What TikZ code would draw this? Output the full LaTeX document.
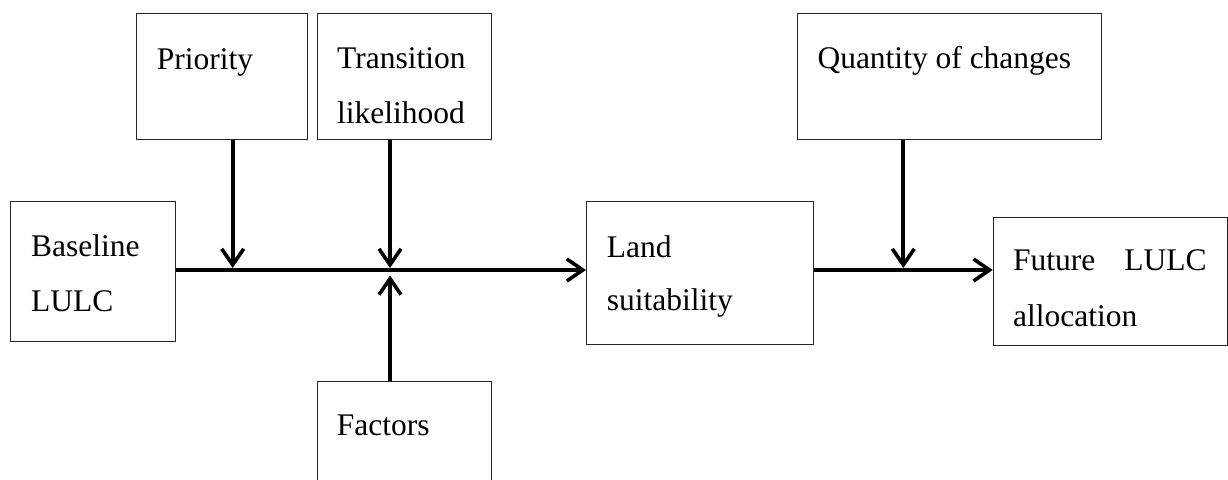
\documentclass[tikz,border=0pt]{standalone}
\usepackage{fontspec}
\setmainfont{Liberation Serif}
\usetikzlibrary{arrows.meta}
\begin{document}
\begin{tikzpicture}[x=1pt,y=-1pt,
  box/.style={draw=black!85,line width=1.1pt,inner sep=0pt,anchor=north west},
  lbl/.style={inner sep=0pt,anchor=base west,font=\fontsize{31.5}{38}\selectfont},
  lblr/.style={lbl,anchor=base east},
  flow/.style={line width=3.8pt,-{Straight Barb[length=16pt,width=22pt,line width=3.6pt]}}]
\useasboundingbox (0,0) rectangle (1228,479);
\clip (0,0) rectangle (1228,479);

% boxes
\node[box,minimum width=165pt,minimum height=140pt] (base) at (10,201) {};
\node[box,minimum width=170.7pt,minimum height=126pt] (prio) at (136,13) {};
\node[box,minimum width=174.3pt,minimum height=126pt] (trans) at (316.7,13) {};
\node[box,minimum width=174.5pt,minimum height=120pt] (fact) at (316.5,380.7) {};
\node[box,minimum width=227pt,minimum height=143pt] (land) at (586,201) {};
\node[box,minimum width=304.3pt,minimum height=126pt] (quant) at (796.7,13.3) {};
\node[box,minimum width=234pt,minimum height=128.3pt] (fut) at (992.7,216.7) {};

% box texts
\node[lbl] (base-a) at (31,256) {Baseline};
\node[lbl] (base-b) at (31,311.7) {LULC};
\node[lbl] (prio-a) at (156.7,69) {Priority};
\node[lbl] (trans-a) at (337,68.5) {Transition};
\node[lbl] (trans-b) at (337,123) {likelihood};
\node[lbl] (fact-a) at (336.7,435) {Factors};
\node[lbl] (land-a) at (606.7,257) {Land};
\node[lbl] (land-b) at (606.7,310) {suitability};
\node[lbl] (quant-a) at (817.3,68.3) {Quantity of changes};
\node[lbl] (fut-a) at (1013,270.7) {Future};
\node[lblr] (fut-b) at (1206.7,270.7) {LULC};
\node[lbl] (fut-c) at (1013,326.7) {allocation};

% junctions on the main flow line
\coordinate (mainy) at (0,270);
\coordinate (j1) at (232.7,270);
\coordinate (j2) at (390,270);
\coordinate (j3) at (903.3,270);

% main flow
\draw[flow] (base.east |- mainy) -- (land.west |- mainy);
\draw[flow] (land.east |- mainy) -- (fut.west |- mainy);

% inputs
\draw[flow,shorten >=2pt] (prio.south -| j1) -- (j1);
\draw[flow,shorten >=2pt] (trans.south -| j2) -- (j2);
\draw[flow,shorten >=5.5pt] (fact.north -| j2) -- (j2);
\draw[flow,shorten >=2pt] (quant.south -| j3) -- (j3);
\end{tikzpicture}
\end{document}
